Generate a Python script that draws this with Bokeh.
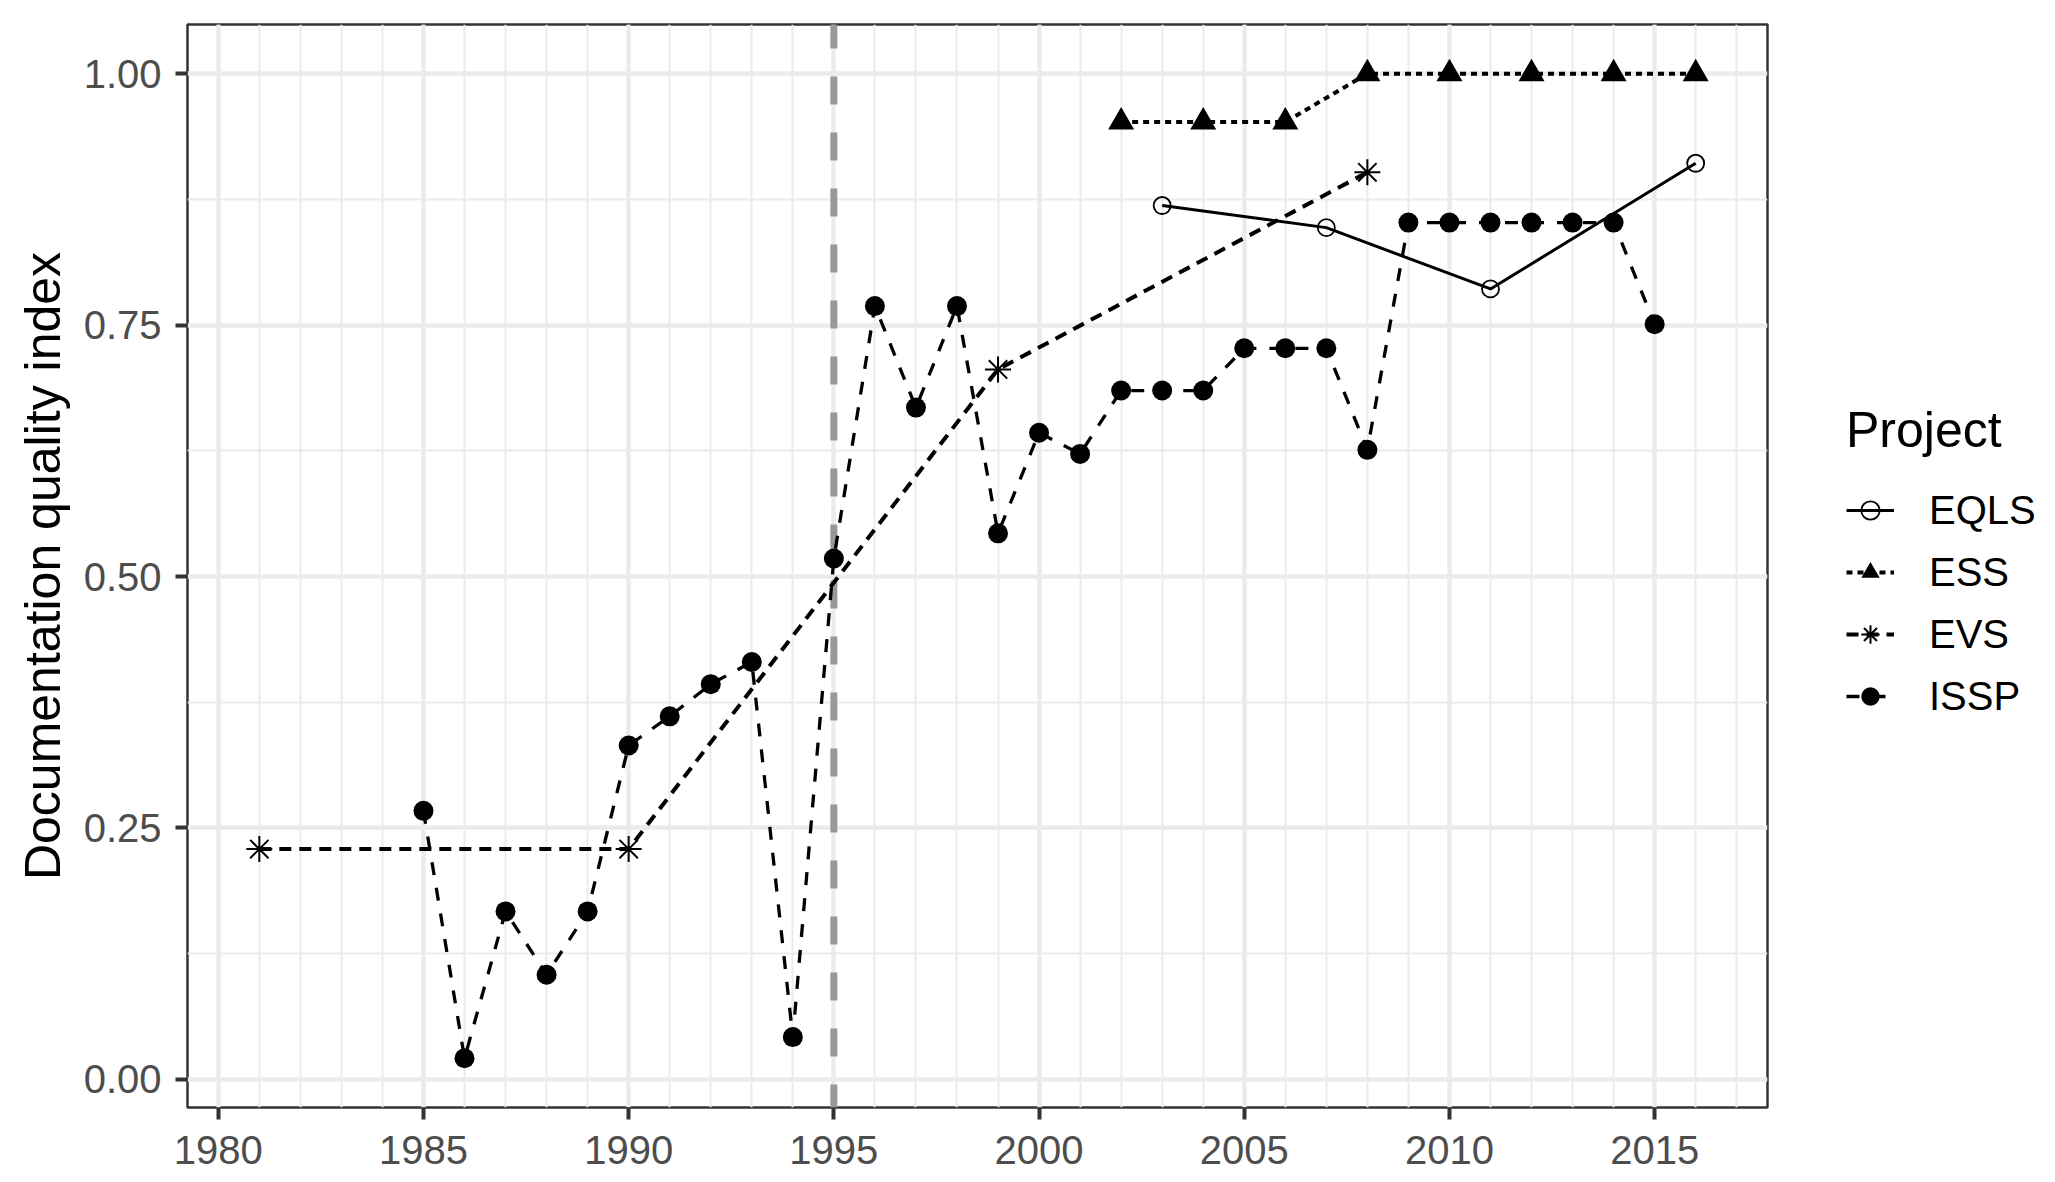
import numpy as np
from bokeh.plotting import figure
from bokeh.models import Range1d, FixedTicker, PrintfTickFormatter, Span, Legend, LegendItem
from bokeh.embed import file_html
from bokeh.resources import INLINE

# documentation quality index by survey project and year
eqls_year = [2003, 2007, 2011, 2016]
eqls_val = [0.869, 0.847, 0.786, 0.911]

ess_year = [2002, 2004, 2006, 2008, 2010, 2012, 2014, 2016]
ess_val = [0.952, 0.952, 0.952, 1.0, 1.0, 1.0, 1.0, 1.0]

evs_year = [1981, 1990, 1999, 2008]
evs_val = [0.229, 0.229, 0.706, 0.902]

issp_year = list(range(1985, 2016))
issp_val = [0.267, 0.021, 0.167, 0.104, 0.167, 0.332, 0.361, 0.393, 0.415, 0.042,
            0.518, 0.769, 0.668, 0.769, 0.543, 0.643, 0.622, 0.685, 0.685, 0.685,
            0.727, 0.727, 0.727, 0.626, 0.852, 0.852, 0.852, 0.852, 0.852, 0.852,
            0.751]

x_ticks = [1980, 1985, 1990, 1995, 2000, 2005, 2010, 2015]
y_ticks = [0.0, 0.25, 0.5, 0.75, 1.0]
cutoff_year = 1995

FONT = "Liberation Sans"

p = figure(frame_width=1580, frame_height=1083,
           x_range=Range1d(1979.25, 2017.75), y_range=Range1d(-0.028, 1.049),
           output_backend="svg", toolbar_location=None,
           min_border_left=187, min_border_top=24, min_border_right=288, min_border_bottom=75)

p.background_fill_color = "white"
p.border_fill_color = "white"
p.outline_line_color = "#333333"
p.outline_line_width = 2.5

p.xaxis.ticker = FixedTicker(ticks=x_ticks, minor_ticks=list(range(1979, 2018)))
p.yaxis.ticker = FixedTicker(ticks=y_ticks, minor_ticks=[0.125, 0.375, 0.625, 0.875])
p.yaxis.formatter = PrintfTickFormatter(format="%.2f")

for ax in (p.xaxis, p.yaxis):
    ax.axis_line_color = None
    ax.major_tick_line_color = "#333333"
    ax.major_tick_line_width = 4
    ax.major_tick_out = 12
    ax.major_tick_in = 0
    ax.minor_tick_line_color = None
    ax.major_label_text_font = FONT
    ax.major_label_text_font_size = "40px"
    ax.major_label_text_color = "#4D4D4D"
p.xaxis.major_label_standoff = 16
p.yaxis.major_label_standoff = 14

p.yaxis.axis_label = "Documentation quality index"
p.yaxis.axis_label_text_font = FONT
p.yaxis.axis_label_text_font_size = "50px"
p.yaxis.axis_label_text_font_style = "normal"
p.yaxis.axis_label_text_color = "black"
p.yaxis.axis_label_standoff = 10

for g in (p.xgrid, p.ygrid):
    g.grid_line_color = "#EBEBEB"
    g.grid_line_width = 4.5
    g.minor_grid_line_color = "#EBEBEB"
    g.minor_grid_line_width = 2

vline = Span(location=cutoff_year, dimension="height", line_color="#999999",
             line_width=7, line_dash="28 28", line_dash_offset=4, level="underlay")
p.add_layout(vline)

# lines first, points on top
l_eqls = p.line(eqls_year, eqls_val, line_color="black", line_width=3)
l_ess = p.line(ess_year, ess_val, line_color="black", line_width=4, line_dash="6 5")
l_evs = p.line(evs_year, evs_val, line_color="black", line_width=4, line_dash="12 8")
l_issp = p.line(issp_year, issp_val, line_color="black", line_width=3.3, line_dash="13 13")

m_eqls = p.scatter(eqls_year, eqls_val, marker="circle", size=17, fill_color=None,
                   line_color="black", line_width=1.8)
m_ess = p.scatter(ess_year, ess_val, marker="triangle", size=26, fill_color="black", line_color=None)
m_evs = p.scatter(evs_year, evs_val, marker="asterisk", size=26, line_color="black", line_width=2)
m_issp = p.scatter(issp_year, issp_val, marker="circle", size=20, fill_color="black", line_color=None)

legend = Legend(items=[
    LegendItem(label="EQLS", renderers=[l_eqls, m_eqls]),
    LegendItem(label="ESS", renderers=[l_ess, m_ess]),
    LegendItem(label="EVS", renderers=[l_evs, m_evs]),
    LegendItem(label="ISSP", renderers=[l_issp, m_issp]),
], location=(79, 388))
legend.title = "Project"
legend.title_text_font = FONT
legend.title_text_font_size = "50px"
legend.title_text_font_style = "normal"
legend.title_text_color = "black"
legend.title_standoff = 28
legend.label_text_font = FONT
legend.label_text_font_size = "40px"
legend.label_text_color = "black"
legend.glyph_width = 48
legend.glyph_height = 46
legend.label_height = 46
legend.label_standoff = 35
legend.spacing = 16
legend.padding = 10
legend.margin = 0
legend.border_line_color = None
legend.background_fill_alpha = 0
p.add_layout(legend, "right")

open("out.html", "w").write(file_html(p, INLINE))
